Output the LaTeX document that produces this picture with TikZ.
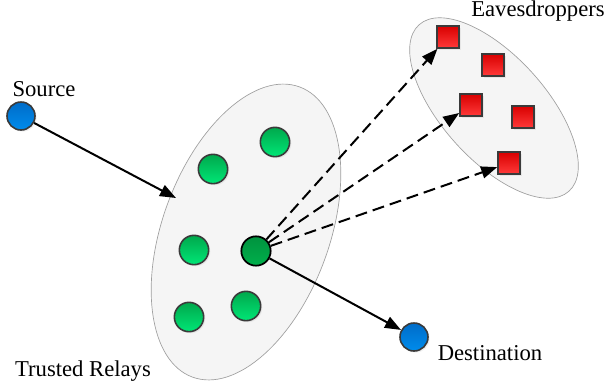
\documentclass[tikz,border=0pt]{standalone}
\usepackage{fontspec}
\setmainfont{Liberation Serif}
\newfontfamily\lblfont{Liberation Serif}
\usetikzlibrary{shapes.geometric,arrows.meta,shadows}
\definecolor{edgegray}{HTML}{3A3A3A}
\definecolor{gtop}{HTML}{00A84C}
\definecolor{gbot}{HTML}{00E676}
\definecolor{atop}{HTML}{00923E}
\definecolor{abot}{HTML}{00B04C}
\definecolor{btop}{HTML}{006CC8}
\definecolor{bbot}{HTML}{008CEC}
\definecolor{rtop}{HTML}{D80000}
\definecolor{rbot}{HTML}{FF3A3A}
\tikzset{
  grp/.style={ellipse, draw=gray!75, line width=0.5pt, fill=black!4},
  relay/.style={circle, draw=edgegray, line width=1.2pt, minimum size=22pt, inner sep=0pt,
    top color=gtop, bottom color=gbot,
    drop shadow={opacity=0.12, shadow xshift=1.2pt, shadow yshift=-1.2pt}},
  active/.style={circle, draw=black, line width=1.3pt, minimum size=22pt, inner sep=0pt,
    top color=atop, bottom color=abot},
  endpoint/.style={circle, draw=edgegray, line width=1.2pt, minimum size=21pt, inner sep=0pt,
    top color=btop, bottom color=bbot,
    drop shadow={opacity=0.12, shadow xshift=1.2pt, shadow yshift=-1.2pt}},
  eave/.style={rectangle, draw=edgegray, line width=1.2pt, minimum size=16.5pt, inner sep=0pt,
    top color=rtop, bottom color=rbot,
    drop shadow={opacity=0.12, shadow xshift=1.2pt, shadow yshift=-1.2pt}},
  lbl/.style={font=\lblfont\fontsize{17}{20}\selectfont, inner sep=0pt},
  link/.style={line width=1.5pt, -{Triangle[length=12pt,width=9pt]}},
  tap/.style={link, dash pattern=on 9pt off 4.5pt},
}
\begin{document}
\begin{tikzpicture}[x=0.75pt,y=-0.75pt]
\useasboundingbox (0,0) rectangle (604,390);
% groups
\node[grp, minimum width=232pt, minimum height=125pt, rotate=69.7] (relays) at (246,232) {};
\node[grp, minimum width=168pt, minimum height=78pt, rotate=-48] (eaves) at (494,108) {};
% relays
\node[relay] (r1) at (275,142) {};
\node[relay] (r2) at (213,169) {};
\node[relay] (r3) at (194,250) {};
\node[active] (r4) at (256,251) {};
\node[relay] (r5) at (246,306) {};
\node[relay] (r6) at (189,317) {};
% eavesdroppers
\node[eave] (e1) at (448,37) {};
\node[eave] (e2) at (493,65) {};
\node[eave] (e3) at (471,105) {};
\node[eave] (e4) at (523,117) {};
\node[eave] (e5) at (509,163) {};
% endpoints
\node[endpoint] (src) at (21,116) {};
\node[endpoint] (dst) at (414,337) {};
\coordinate (entry) at (176,198);
% labels
\node[lbl] (srcl) at (44,89) {Source};
\node[lbl] (dstl) at (490,353) {Destination};
\node[lbl] (evl) at (538,11) {Eavesdroppers};
\node[lbl] (rll) at (83,371) {Trusted Relays};
% links
\draw[link] (src) -- (entry);
\draw[link] (r4) -- (dst);
\draw[tap] (r4) -- (e1);
\draw[tap] (r4) -- (e3);
\draw[tap] (r4) -- (e5);
\end{tikzpicture}
\end{document}
